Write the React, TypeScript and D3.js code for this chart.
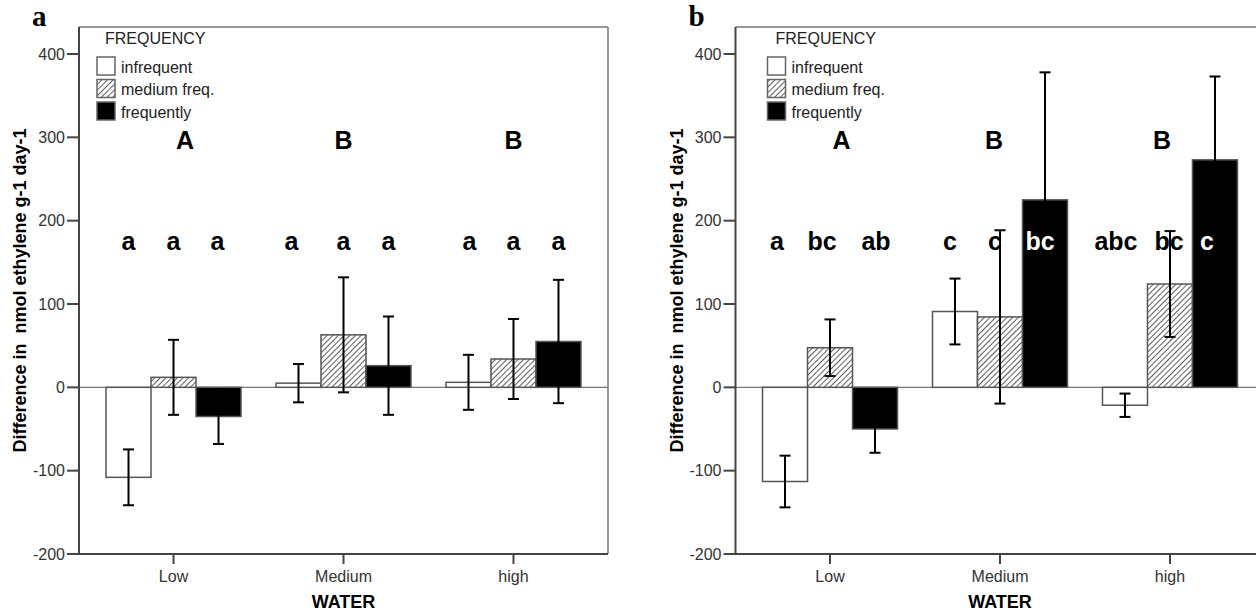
import * as d3 from "d3";

// WATER levels on the x axis, FREQUENCY as the three bars in each group
const groups = ["Low", "Medium", "high"];
const series = ["infrequent", "medium freq.", "frequently"];

// panel a: mean difference and error half-width per group x series
const meansA = [[-108, 12, -35], [5, 63, 26], [6, 34, 55]];
const errA = [[33.5, 45, 33], [23, 69, 59], [33, 48, 74]];

// panel b
const meansB = [[-113, 47.5, -50], [91, 84.5, 225], [-21.5, 124, 273]];
const errB = [[31, 34, 28.5], [39.5, 104, 153], [14, 63.5, 100]];

// significance letters
const groupLettersA = ["A", "B", "B"];
const barLettersA = [["a", "a", "a"], ["a", "a", "a"], ["a", "a", "a"]];
const groupLettersB = ["A", "B", "B"];
const barLettersB = [["a", "bc", "ab"], ["c", "c", "bc"], ["abc", "bc", "c"]];

const yTicks = [-200, -100, 0, 100, 200, 300, 400];

const FONT = "'Liberation Sans', Arial, sans-serif";
const plotTop = 27;
const plotBottom = 554;
const plotWidth = 529;
const barWidth = 45;

// the frame reaches a bit above the 400 tick
const y = d3.scaleLinear().domain([-200, 432.4]).range([plotBottom, plotTop]);

const panels = [
  {
    label: "a",
    left: 79,
    means: meansA,
    errs: errA,
    groupLetters: groupLettersA,
    barLetters: barLettersA,
    legendDx: 0,
    groupNudge: [11.5, 0, 0],
    barNudge: [[0, 0, -1], [-7, 0, 0], [1, 0, 0]],
  },
  {
    label: "b",
    left: 735.5,
    means: meansB,
    errs: errB,
    groupLetters: groupLettersB,
    barLetters: barLettersB,
    legendDx: 14,
    groupNudge: [11.5, -6, -8],
    barNudge: [[-8, -8, 1], [-5, -5, -5], [-9, -1, -8]],
  },
];

const barFill = (s: number) => (s === 0 ? "#fff" : s === 1 ? "url(#hatch)" : "#000");

function Panel({ p }: { p: (typeof panels)[number] }) {
  const x = d3
    .scalePoint<string>()
    .domain(groups)
    .range([p.left, p.left + plotWidth])
    .padding(0.556);
  const inner = d3
    .scaleBand<string>()
    .domain(series)
    .range([-1.5 * barWidth, 1.5 * barWidth]);
  const right = p.left + plotWidth;
  const letterLow = 165;
  const letterHigh = 286;

  return (
    <g>
      {/* panel letter */}
      <text
        x={p.left - 47}
        y={26}
        fontFamily="'Liberation Serif', 'Times New Roman', serif"
        fontWeight="bold"
        fontSize={29}
      >
        {p.label}
      </text>

      {/* frame */}
      <line x1={p.left} x2={right} y1={plotTop} y2={plotTop} stroke="#777" strokeWidth={1.5} />
      <line x1={right} x2={right} y1={plotTop} y2={plotBottom} stroke="#777" strokeWidth={1.5} />
      <line x1={p.left} x2={right} y1={y(0)} y2={y(0)} stroke="#777" strokeWidth={1.2} />

      {/* bars */}
      {groups.map((g, gi) =>
        series.map((s, si) => {
          const v = p.means[gi][si];
          const bx = (x(g) ?? 0) + (inner(s) ?? 0);
          return (
            <rect
              key={g + s}
              x={bx}
              y={Math.min(y(v), y(0))}
              width={inner.bandwidth()}
              height={Math.abs(y(v) - y(0))}
              fill={barFill(si)}
              stroke="#555"
              strokeWidth={1.5}
            />
          );
        })
      )}

      {/* error bars */}
      {groups.map((g, gi) =>
        series.map((s, si) => {
          const v = p.means[gi][si];
          const e = p.errs[gi][si];
          const cx = (x(g) ?? 0) + (inner(s) ?? 0) + inner.bandwidth() / 2;
          return (
            <g key={"e" + g + s} stroke="#000" strokeWidth={2}>
              <line x1={cx} x2={cx} y1={y(v - e)} y2={y(v + e)} />
              <line x1={cx - 5.5} x2={cx + 5.5} y1={y(v + e)} y2={y(v + e)} />
              <line x1={cx - 5.5} x2={cx + 5.5} y1={y(v - e)} y2={y(v - e)} />
            </g>
          );
        })
      )}

      {/* significance letters */}
      {groups.map((g, gi) => (
        <text
          key={"G" + g}
          x={(x(g) ?? 0) + p.groupNudge[gi]}
          y={y(letterHigh)}
          textAnchor="middle"
          fontFamily={FONT}
          fontWeight="bold"
          fontSize={25}
        >
          {p.groupLetters[gi]}
        </text>
      ))}
      {groups.map((g, gi) =>
        series.map((s, si) => {
          const cx = (x(g) ?? 0) + (inner(s) ?? 0) + inner.bandwidth() / 2;
          const onBlack = si === 2 && p.means[gi][si] > letterLow + 10;
          return (
            <text
              key={"l" + g + s}
              x={cx + p.barNudge[gi][si]}
              y={y(letterLow)}
              textAnchor="middle"
              fontFamily={FONT}
              fontWeight="bold"
              fontSize={25}
              fill={onBlack ? "#fff" : "#000"}
            >
              {p.barLetters[gi][si]}
            </text>
          );
        })
      )}

      {/* legend */}
      <g fontFamily={FONT} fontSize={16} fill="#222">
        <text x={p.left + 26 + p.legendDx} y={44}>
          FREQUENCY
        </text>
        {series.map((s, si) => (
          <g key={"lg" + s}>
            <rect
              x={p.left + 18 + p.legendDx}
              y={57 + si * 22.5}
              width={18}
              height={18}
              fill={barFill(si)}
              stroke="#666"
              strokeWidth={1.5}
            />
            <text x={p.left + 42 + p.legendDx} y={57 + si * 22.5 + 15.5}>
              {s}
            </text>
          </g>
        ))}
      </g>

      {/* y axis */}
      <line x1={p.left} x2={p.left} y1={plotTop} y2={plotBottom + 1} stroke="#444" strokeWidth={2} />
      {yTicks.map((t) => (
        <g key={"yt" + t}>
          <line x1={p.left - 12} x2={p.left} y1={y(t)} y2={y(t)} stroke="#444" strokeWidth={2} />
          <text
            x={p.left - 14}
            y={y(t)}
            dy="0.35em"
            textAnchor="end"
            fontFamily={FONT}
            fontSize={16}
            fill="#333"
          >
            {t}
          </text>
        </g>
      ))}
      <text
        transform={`translate(${p.left - 53},${(plotTop + plotBottom) / 2}) rotate(-90)`}
        textAnchor="middle"
        fontFamily={FONT}
        fontWeight="bold"
        fontSize={18}
        style={{ whiteSpace: "pre" }}
      >
        {"Difference in  nmol ethylene g-1 day-1"}
      </text>

      {/* x axis */}
      <line x1={p.left - 1} x2={right} y1={plotBottom} y2={plotBottom} stroke="#444" strokeWidth={2} />
      {groups.map((g) => (
        <g key={"xt" + g}>
          <line x1={x(g)} x2={x(g)} y1={plotBottom} y2={plotBottom + 10} stroke="#444" strokeWidth={2} />
          <text x={x(g)} y={582} textAnchor="middle" fontFamily={FONT} fontSize={16} fill="#333">
            {g}
          </text>
        </g>
      ))}
      <text
        x={x(groups[1])}
        y={608}
        textAnchor="middle"
        fontFamily={FONT}
        fontWeight="bold"
        fontSize={18}
      >
        WATER
      </text>
    </g>
  );
}

export default function App() {
  return (
    <svg
      width={1256}
      height={614}
      style={{ position: "absolute", left: 0, top: 0, background: "#fff" }}
    >
      <defs>
        <pattern
          id="hatch"
          width={4}
          height={4}
          patternUnits="userSpaceOnUse"
          patternTransform="rotate(45)"
        >
          <rect width={4} height={4} fill="#fff" />
          <line x1={0} y1={0} x2={0} y2={4} stroke="#333" strokeWidth={1.6} />
        </pattern>
      </defs>
      <rect width={1256} height={614} fill="#fff" />
      {panels.map((p) => (
        <Panel key={p.label} p={p} />
      ))}
    </svg>
  );
}
